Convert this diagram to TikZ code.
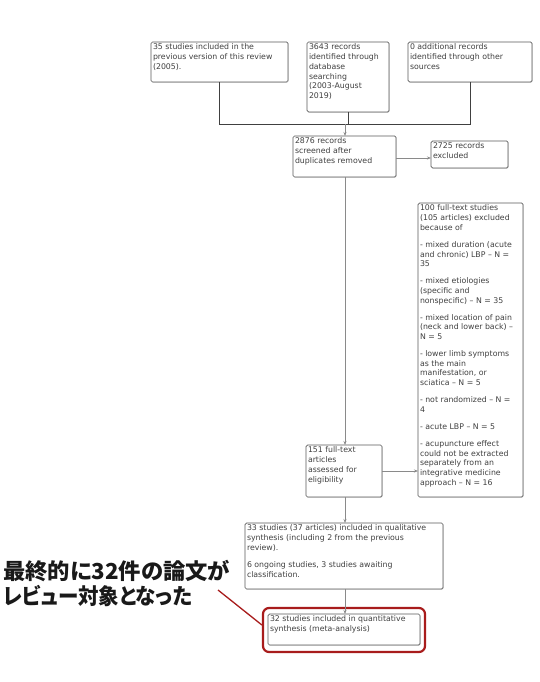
\documentclass[tikz,border=0pt]{standalone}
\usepackage{fontspec}
\usepackage{graphicx}
\newfontfamily\boxfont{DejaVu Sans}
\newfontfamily\jpfont[RawFeature=+palt]{Noto Sans CJK JP}
\usetikzlibrary{arrows.meta,shadows}
\definecolor{boxtext}{HTML}{404040}
\definecolor{boxline}{HTML}{5A5A5A}
\definecolor{conn}{HTML}{8A8A8A}
\definecolor{darkred}{HTML}{A81C1C}
\newcommand{\bxtext}[3]{\begin{minipage}[c][#2pt][t]{#1pt}\raggedright\setlength{\parskip}{7.3pt}#3\end{minipage}}
\begin{document}
\begin{tikzpicture}[x=1pt,y=-1pt,
  box/.style={draw=boxline,line width=0.7pt,rounded corners=1.5pt,fill=white,inner sep=0pt,outer sep=0pt,
    font=\boxfont\fontsize{7.8}{9.7}\selectfont,text=boxtext,
    drop shadow={shadow xshift=0.7pt,shadow yshift=-0.7pt,opacity=0.35}},
  conn/.style={draw=conn,line width=0.7pt},
  darkconn/.style={draw=black!75,line width=0.9pt},
  arr/.style={-{Stealth[length=4pt,width=3pt]}}]
\useasboundingbox (0,0) rectangle (540,682);
\fill[white] (0,0) rectangle (540,682);

\node[box,minimum width=137pt,minimum height=40pt] (b1) at (219.5,62)
  {\bxtext{133}{36}{35 studies included in the\\previous version of this review\\(2005).}};
\node[box,minimum width=82pt,minimum height=70pt] (b2) at (348,77)
  {\bxtext{78}{66}{3643 records\\identified through\\database\\searching\\(2003-August\\2019)}};
\node[box,minimum width=124pt,minimum height=40pt] (b3) at (470,62)
  {\bxtext{120}{36}{0 additional records\\identified through other\\sources}};
\node[box,minimum width=103pt,minimum height=41pt] (b4) at (344.5,156.5)
  {\bxtext{99}{37}{2876 records\\screened after\\duplicates removed}};
\node[box,minimum width=77pt,minimum height=27pt] (b5) at (469.5,154.5)
  {\bxtext{73}{23}{2725 records\\excluded}};
\node[box,minimum width=105pt,minimum height=294pt] (b7) at (470.5,350)
  {\bxtext{101}{290}{100 full-text studies\\(105 articles) excluded\\because of

  - mixed duration (acute\\and chronic) LBP – N =\\35

  - mixed etiologies\\(specific and\\nonspecific) – N = 35

  - mixed location of pain\\(neck and lower back) –\\N = 5

  - lower limb symptoms\\as the main\\manifestation, or\\sciatica – N = 5

  - not randomized – N =\\4

  - acute LBP – N = 5

  - acupuncture effect\\could not be extracted\\separately from an\\integrative medicine\\approach – N = 16}};
\node[box,minimum width=76pt,minimum height=52pt] (b6) at (344,471)
  {\bxtext{72}{48}{151 full-text\\articles\\assessed for\\eligibility}};
\node[box,minimum width=198pt,minimum height=66pt] (b8) at (344,556)
  {\bxtext{194}{62}{33 studies (37 articles) included in qualitative\\synthesis (including 2 from the previous\\review).

  6 ongoing studies, 3 studies awaiting\\classification.}};
\node[draw=darkred,line width=2.2pt,rounded corners=6pt,minimum width=162pt,minimum height=44pt,inner sep=0pt] (hl) at (344,630) {};
\node[box,minimum width=152pt,minimum height=31pt] (b9) at (344,629.5)
  {\bxtext{148}{27}{32 studies included in quantitative\\synthesis (meta-analysis)}};

\node[anchor=north west,inner sep=0pt,align=left,font=\jpfont\bfseries\fontsize{22}{24.5}\selectfont,text=black!90] (jp) at (3,560)
  {\resizebox{227pt}{\height}{最終的に32件の論文が}\\\resizebox{189pt}{\height}{レビュー対象となった}};

% connectors
\coordinate (j) at (345,124);
\coordinate (jl) at (b1.south |- j);
\coordinate (jr) at (b3.south |- j);
\draw[darkconn] (b1.south) -- (jl) -- (jr) -- (b3.south);
\draw[darkconn] (b2.south) -- (b2.south |- j);
\draw[conn,arr] (j) -- (j |- b4.north);
\draw[conn,arr] (b4.east |- 0,158) -- (b5.west |- 0,158);
\draw[conn,arr] (b4.south -| j) -- (b6.north -| j);
\draw[conn,arr] (b6.east) -- (b6.east -| b7.west);
\draw[conn,arr] (b6.south -| j) -- (b8.north -| j);
\draw[conn,arr] (b8.south -| j) -- (b9.north -| j);
\coordinate (rp) at (218,590);
\draw[darkred,line width=1.3pt] (rp) -- (hl.west |- 0,625);
\end{tikzpicture}
\end{document}
